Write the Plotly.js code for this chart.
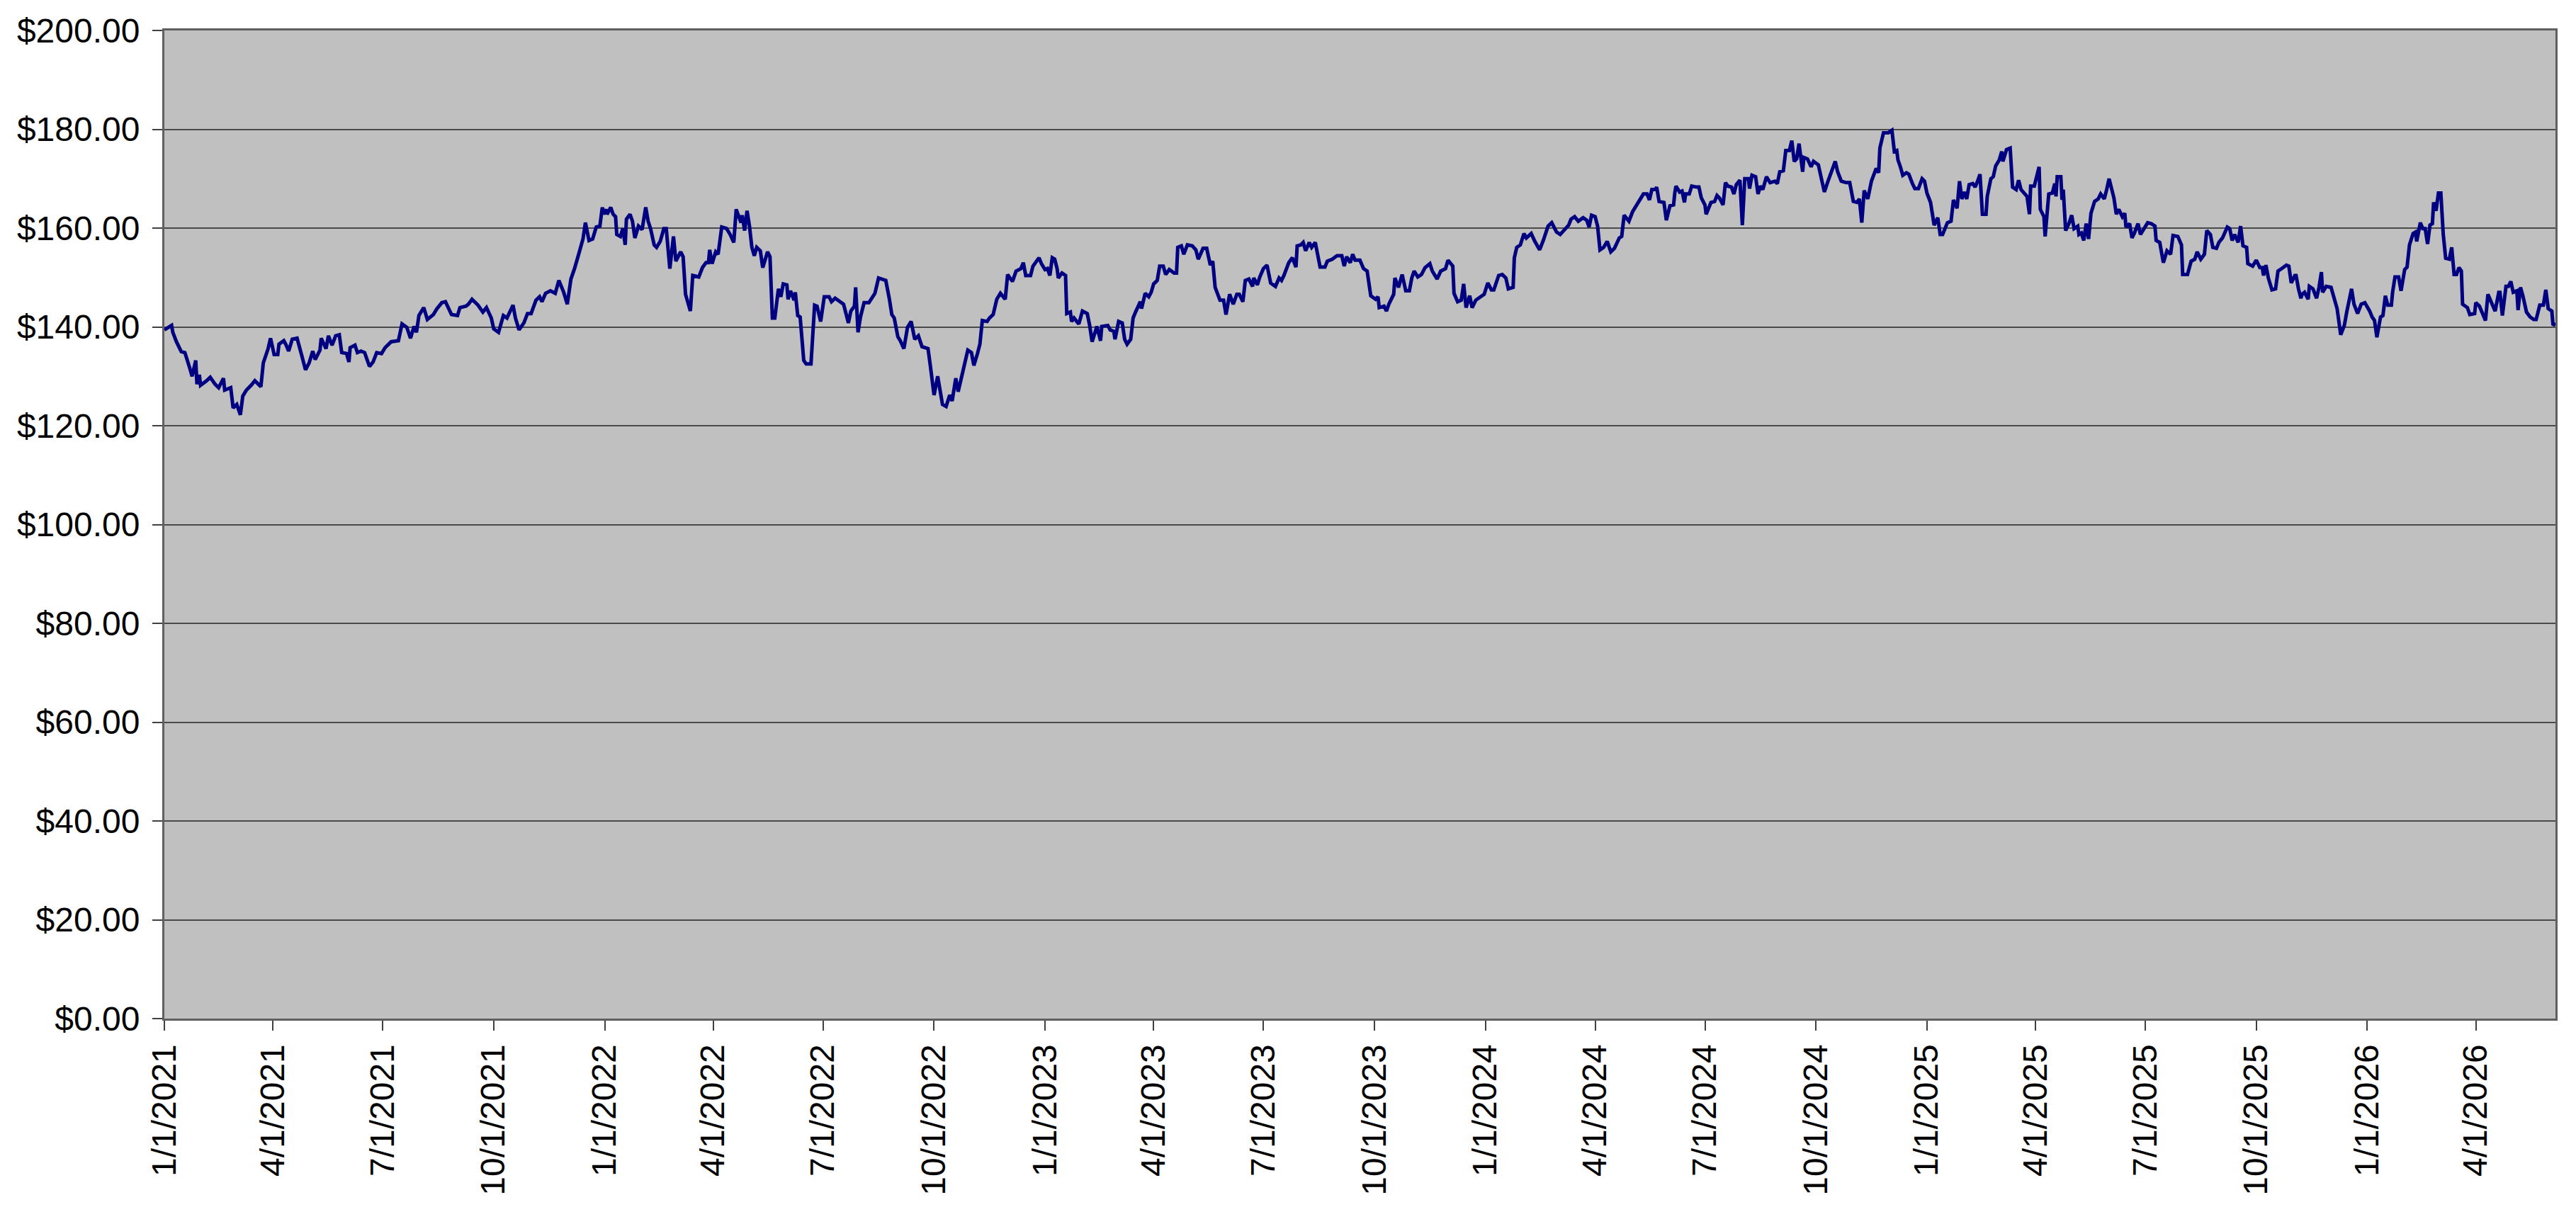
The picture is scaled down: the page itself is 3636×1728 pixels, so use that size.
<!DOCTYPE html>
<html>
<head>
<meta charset="utf-8">
<script src="https://cdn.plot.ly/plotly-3.0.1.min.js"></script>
<style>html,body{margin:0;padding:0;background:#fff}</style>
</head>
<body>
<div id="chart" style="width:3636px;height:1728px"></div>
<script>
var days2021 = [0,6,7,10,14,17,21,23,26,27,29,30,35,38,42,45,49,50,55,57,60,63,65,68,72,75,80,82,86,88,91,94,95,99,101,103,106,110,114,117,120,123,125,129,130,134,136,139,142,145,147,151,153,154,158,160,163,166,170,173,176,180,183,188,194,197,201,204,207,209,211,215,218,223,226,230,233,238,243,245,250,252,255,260,264,267,271,273,277,281,284,289,291,294,298,301,304,308,311,313,316,320,324,327,331,334,337,340,344,347,349,352,355,358,361,363];
var price2021 = [139.4,140.3,138.9,137,135,134.8,131.7,130,133.2,128.4,130.3,128.2,129.1,129.8,128.4,127.7,129.6,127.2,127.7,123.6,124.3,122.2,126,127.2,128.2,129.1,127.9,132.7,135.6,137.7,134.4,134.4,136.5,137.2,136.3,135.1,137.5,137.7,134.1,131.3,132.7,135.1,133.4,135.3,137.7,135.6,138.2,136.3,138.2,138.4,134.8,134.6,132.9,135.8,136.3,134.8,135.1,134.8,132,132.9,134.8,134.6,135.8,137,137.2,140.6,139.9,137.7,140.1,138.9,142.3,143.9,141.5,142.5,143.7,144.9,145.1,142.5,142.3,143.9,144.2,144.6,145.6,144.4,143,143.9,141.8,139.6,138.9,142.3,141.8,144.4,141.8,139.4,140.8,142.7,142.7,145.4,146.1,145.1,146.8,147.3,146.8,149.4,147,144.6,149.7,151.8,155.2,157.8,161.1,157.5,157.8,160.2,160.4,164.2];

var days2022 = [364,366,367,370,372,374,375,378,380,382,383,386,388,390,393,396,399,401,403,406,408,411,414,416,419,422,424,428,430,432,436,438,443,446,449,451,452,454,457,459,462,466,469,472,474,478,479,481,483,485,487,489,491,494,496,500,502,504,506,509,511,513,516,517,519,522,523,525,527,530,532,536,539,541,544,547,551,553,556,560,563,565,567,569,572,573,575,577,580,584,587,589,592,595,598,601,603,605,608,610,613,616,619,622,625,628,633,635,638,641,645,648,651,653,656,658,661,663,666,669,671,674,676,678,682,684,687,690,693,697,699,703,706,710,712,714,718,720,725,727];
var price2022 = [162.8,163.8,162.8,164.2,162.8,162.3,158.7,158.3,159.9,156.6,161.8,162.8,161.4,158,160.4,159.7,164.2,161.4,159.9,156.6,156.1,157.3,159.9,159.9,151.8,158.3,153.3,155.2,154.2,146.6,143.2,150.4,150.1,152,153,153,155.6,152.8,155.2,154.7,160.2,159.9,158.7,157.1,163.8,161.1,162.6,159.5,163.5,160.4,156.1,154.4,156.1,155.4,152,155.2,154.2,141.8,141.8,147.7,146.1,148.7,148.5,145.6,147.3,145.4,147,142.3,142,133.2,132.5,132.5,144.4,144.2,141.1,146.1,146.1,145.1,145.8,145.1,144.6,142.7,140.8,143.2,144.2,148,138.9,142,144.9,144.9,146.1,146.8,149.9,149.7,149.4,145.6,142.5,141.8,138,137.2,135.6,139.9,141.1,137.5,138.2,136,135.6,132,126.2,130,124.3,123.9,126.2,125,129.6,126.9,129.8,131.7,135.3,134.8,132.2,134.6,136.5,141.3,141.1,141.8,142.5,145.6,146.8,145.6,150.6,149.2,151.3,151.8,153,150.4,150.4,152.3,154,152.8];

var days2023 = [730,732,734,736,738,740,741,744,747,748,751,752,754,758,761,765,767,769,773,776,777,782,784,787,788,791,794,796,798,801,803,805,809,810,813,816,818,820,823,825,828,830,833,837,839,840,843,845,848,852,855,857,861,864,867,869,871,875,878,880,883,886,889,891,894,896,899,902,903,906,908,911,914,917,921,924,926,928,932,935,938,939,942,944,946,949,951,954,956,958,962,964,968,972,976,978,980,983,985,987,991,994,997,1000,1004,1006,1007,1011,1013,1015,1019,1020,1023,1026,1029,1032,1034,1036,1039,1042,1045,1049,1051,1055,1058,1062,1064,1068,1069,1072,1075,1077,1079,1082,1084,1087,1091,1094];
var price2023 = [151.6,151.8,150.4,154,153.7,151.8,149.9,150.9,150.4,142.7,143,141.1,141.8,140.6,143.2,142.7,140.3,137,140.1,137.2,140.1,140.3,139.4,139.1,137.5,141.1,140.8,137.5,136.5,137.5,141.8,143,145.1,143.7,146.8,146.1,147,148.7,149.4,152.3,152.3,150.6,151.6,150.9,150.9,156.1,156.4,154.7,156.6,156.4,155.6,153.7,155.9,155.9,152.5,153.3,148,145.4,145.4,142.5,146.6,144.6,146.6,146.6,145.1,149.4,149.7,148.2,149.9,148.5,150.1,151.8,152.5,148.9,148.2,149.9,149.4,150.4,153,154,152.1,156.4,156.6,157.1,155.4,157.1,156.1,157.1,154.7,152.1,152.1,153.3,153.7,154.4,154.4,152.3,154.2,153,154.7,153.5,153.5,151.8,151.3,146.3,145.6,146.1,143.9,144.2,143.2,144.6,146.6,149.9,148,150.6,147.3,147.3,149.9,151.3,150.1,150.6,152,152.8,151.3,149.7,151.3,151.8,153.5,152.3,146.8,145.1,145.4,148.7,143.9,146.3,143.9,145.4,146.1,146.6];

var days2024 = [1097,1100,1102,1106,1109,1112,1114,1118,1119,1121,1124,1127,1129,1133,1136,1140,1143,1147,1150,1154,1157,1160,1164,1166,1169,1172,1176,1179,1181,1183,1186,1188,1190,1193,1196,1199,1202,1206,1208,1210,1214,1217,1220,1223,1226,1229,1231,1233,1236,1237,1239,1243,1245,1248,1251,1252,1253,1256,1258,1260,1261,1264,1266,1270,1272,1274,1277,1278,1280,1282,1285,1287,1289,1292,1294,1296,1299,1301,1303,1306,1308,1310,1313,1314,1316,1319,1321,1323,1325,1328,1331,1335,1337,1339,1342,1344,1347,1349,1351,1353,1355,1358,1359,1362,1365,1367,1371,1374,1376,1379,1381,1385,1387,1390,1394,1397,1400,1403,1405,1407,1409,1412,1415,1419,1421,1422,1425,1429,1432,1434,1436,1437,1439,1441,1444,1446,1449,1451,1454,1457,1459];
var price2024 = [148.9,147.5,147.5,150.4,150.6,149.9,147.7,148,154,156.1,156.6,158.9,158,158.9,157.3,155.6,157.5,160.4,161.1,159.2,158.7,159.5,160.6,161.8,162.3,161.4,162.1,161.6,160.2,162.6,162.3,160.4,155.6,156.1,157.3,155.2,155.9,158,158.3,162.6,161.4,163.3,164.5,165.9,166.9,166.9,165.7,167.8,167.8,168.3,165.4,165.2,161.6,164.5,164.7,167.1,168.5,167.3,167.5,165.2,166.9,166.9,168.5,168.3,168.3,166.1,164.7,162.8,163.8,165.2,165.4,166.6,166.1,164.7,169.2,168.5,168.3,166.9,168.8,169.7,160.6,170,170,168,170.7,170.4,166.9,168.5,167.8,170.4,169.2,169.5,169,171.4,171.6,175.7,175.7,177.7,173.5,174,177.1,171.4,174.3,174,172.4,173.5,172.8,169,167.3,169.5,170.9,173.5,171.4,169.5,169.2,169.2,165.4,165.2,165.9,161.1,167.6,165.9,169.5,172.1,171.2,176.2,179.3,179.3,179.8,175.5,175.7,173.8,172.4,170.7,171.2,170.9,169,168,168,170,169.5];

var days2025 = [1461,1464,1467,1470,1472,1474,1478,1481,1483,1486,1488,1490,1492,1494,1496,1499,1501,1503,1505,1507,1510,1511,1514,1516,1518,1521,1523,1524,1527,1530,1532,1535,1537,1539,1542,1544,1546,1547,1550,1552,1554,1555,1558,1559,1562,1565,1567,1568,1569,1572,1573,1574,1576,1579,1581,1583,1586,1587,1589,1591,1593,1595,1597,1600,1603,1605,1608,1610,1612,1616,1618,1620,1623,1625,1626,1629,1631,1633,1636,1638,1640,1644,1647,1650,1651,1654,1657,1660,1663,1665,1669,1672,1673,1677,1680,1683,1685,1688,1691,1693,1696,1698,1701,1703,1706,1710,1712,1714,1716,1719,1721,1723,1726,1727,1731,1734,1737,1739,1740,1742,1744,1747,1750,1752,1755,1759,1761,1763,1766,1767,1769,1771,1772,1774,1777,1778,1781,1784,1786,1788,1789,1792,1796,1799,1801,1804,1807,1809,1811,1813,1815,1818,1821,1824];
var price2025 = [167.1,165.2,160.6,162.1,158.7,158.7,161.1,161.4,165.7,164,169.5,165.9,167.3,165.9,168.8,169,168.3,169.5,170.9,162.8,162.8,166.4,170,170.4,172.6,173.8,175.5,173.5,175.9,176.2,168.3,167.8,169.7,167.8,166.9,166.4,162.8,168.5,168.5,170.4,172.4,163.8,162.3,158.3,166.9,167.1,169,166.4,170.4,170.4,165.7,167.8,159.5,161.1,162.6,159.9,160.4,158.7,159,157.5,160.9,157.8,163,165.4,165.9,166.9,165.9,167.8,170,166.1,162.8,163.8,162.3,163,160.2,160.9,158,159,160.9,158.7,159.5,161.1,160.9,160.4,157.5,157.1,153,155.4,154.7,158.5,158.3,156.6,150.6,150.6,153.3,153.7,155.2,153.7,154.7,159.5,158.7,156.1,155.9,157.1,158,160.2,159.9,157.5,158.7,157.1,160.4,156.4,156.1,152.8,152.3,153.5,152,152,150.4,152.5,149.9,147.5,147.7,151.3,151.8,152.5,152.3,148.9,150.4,150.4,147.7,145.8,146.6,147,145.6,148.2,147.7,145.8,148,151.1,147,148.2,148,145.6,143.7,138.4,140.3,143,145.4,147.7,144.6,142.7,144.6,144.9];

var days2026 = [1828,1830,1832,1834,1837,1839,1841,1843,1846,1847,1849,1852,1854,1857,1859,1861,1864,1866,1867,1870,1872,1874,1876,1878,1880,1881,1883,1885,1887,1889,1891,1894,1896,1898,1900,1902,1904,1905,1909,1911,1915,1916,1919,1921,1924,1926,1929,1932,1935,1936,1938,1941,1943,1945,1947,1950,1951,1953,1955,1958,1961,1964,1966,1969,1972,1974,1976,1979,1980,1982];
var price2026 = [143.2,142,141.3,137.9,142,142.3,146.3,144.4,144.4,147,150.1,150.1,147.3,151.6,152.1,156.6,158.9,159.2,157.3,161.1,159.9,159.9,156.8,160.6,160.9,165.2,163.5,167.1,167.1,158.7,153.9,153.7,156.1,150.6,150.6,152,151.3,144.6,143.9,142.5,142.7,144.9,144.2,143.2,141.3,146.6,145.1,143.2,147,147,142.3,148.2,148.2,149.2,147,147.3,143.4,148,146.3,143,142,141.5,141.5,144.4,144.4,147.5,143.7,143.2,140.3,140.8];

var tickLabels = ['1/1/2021','4/1/2021','7/1/2021','10/1/2021',
                  '1/1/2022','4/1/2022','7/1/2022','10/1/2022',
                  '1/1/2023','4/1/2023','7/1/2023','10/1/2023',
                  '1/1/2024','4/1/2024','7/1/2024','10/1/2024',
                  '1/1/2025','4/1/2025','7/1/2025','10/1/2025',
                  '1/1/2026','4/1/2026'];

function toDate(offset) {
  var t = Date.UTC(2021, 0, 1) + offset * 86400000;
  return new Date(t).toISOString().slice(0, 10);
}

function labelToIso(s) {
  var p = s.split('/');
  return p[2] + '-' + ('0' + p[0]).slice(-2) + '-' + ('0' + p[1]).slice(-2);
}

var allDays = days2021.concat(days2022, days2023, days2024, days2025, days2026);
var allPrices = price2021.concat(price2022, price2023, price2024, price2025, price2026);
var xDates = allDays.map(toDate);

var data = [{
  type: 'scatter',
  mode: 'lines',
  x: xDates,
  y: allPrices,
  line: {color: '#000080', width: 5},
  hoverinfo: 'skip'
}];

var layout = {
  width: 3636,
  height: 1728,
  margin: {l: 232, r: 29, t: 43, b: 290},
  paper_bgcolor: '#ffffff',
  plot_bgcolor: '#c0c0c0',
  showlegend: false,
  font: {family: 'Arial, "Liberation Sans", sans-serif', size: 48, color: '#000000'},
  xaxis: {
    type: 'date',
    range: [xDates[0], xDates[xDates.length - 1]],
    tickmode: 'array',
    tickvals: tickLabels.map(labelToIso),
    ticktext: tickLabels,
    tickangle: -90,
    ticks: 'outside',
    ticklen: 14,
    tickwidth: 2,
    tickcolor: '#404040',
    showgrid: false,
    zeroline: false,
    showline: true,
    linecolor: '#606060',
    linewidth: 3,
    mirror: true
  },
  yaxis: {
    range: [0, 200],
    tick0: 0,
    dtick: 20,
    tickprefix: '$',
    tickformat: '.2f',
    ticks: 'outside',
    ticklen: 14,
    tickwidth: 2,
    tickcolor: '#404040',
    ticklabelstandoff: 8,
    showgrid: true,
    gridcolor: '#4a4a4a',
    gridwidth: 2,
    zeroline: false,
    showline: true,
    linecolor: '#606060',
    linewidth: 3,
    mirror: true
  }
};

Plotly.newPlot('chart', data, layout, {staticPlot: true, displayModeBar: false});
</script>
</body>
</html>
